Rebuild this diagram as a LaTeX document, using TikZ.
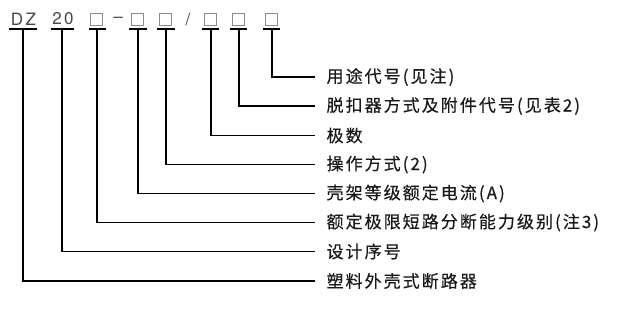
\documentclass[tikz,border=0pt]{standalone}
\usepackage{fontspec}
\newfontfamily\cjk[LetterSpace=12,FakeBold=0.4]{Noto Sans CJK SC}
\newfontfamily\codefont[LetterSpace=14]{TeX Gyre Heros}
\usetikzlibrary{positioning}

\begin{document}
\begin{tikzpicture}[x=1pt, y=-1pt, line width=1.2pt,
  code/.style={text=black!72, font=\codefont\fontsize{17}{17}\selectfont, inner sep=0pt},
  sq/.style={draw=black!45, line width=1pt, minimum size=12pt, inner sep=0pt},
  desc/.style={anchor=west, inner xsep=11pt, inner ysep=0pt, text=black!90,
    font=\cjk\fontsize{17}{17}\selectfont}]
\path[use as bounding box] (0,0) rectangle (622,309);
% model code on top
\node[code] (DZ) at (23.5,19) {DZ};
\node[code] (N20) at (63,19) {20};
\node[sq] (B1) at (96,19) {};
\node[code] (dash) at (118,20) {–};
\node[sq] (B2) at (137,19) {};
\node[sq] (B3) at (165,19) {};
\node[code] (slash) at (188,19) {/};
\node[sq] (B4) at (210,19) {};
\node[sq] (B5) at (238,19) {};
\node[sq] (B6) at (271,19) {};
% underline points
\coordinate (uDZ) at (23,29);
\coordinate (u20) at (62,29);
\coordinate (u1) at (97,29);
\coordinate (u2) at (138,29);
\coordinate (u3) at (166,29);
\coordinate (u4) at (211,29);
\coordinate (u5) at (239,29);
\coordinate (u6) at (272,29);
\draw ([xshift=-14pt]uDZ) -- ([xshift=14pt]uDZ);
\draw ([xshift=-11pt]u20) -- ([xshift=12pt]u20);
\draw ([xshift=-8pt]u1) -- ([xshift=9pt]u1);
\draw ([xshift=-9pt]u2) -- ([xshift=9pt]u2);
\draw ([xshift=-9pt]u3) -- ([xshift=9pt]u3);
\draw ([xshift=-9pt]u4) -- ([xshift=8pt]u4);
\draw ([xshift=-9pt]u5) -- ([xshift=8pt]u5);
\draw ([xshift=-9pt]u6) -- ([xshift=8pt]u6);
% descriptions
\node[desc] (dUse) at (315,77) {用途代号(见注)};
\node[desc] (dTrip) at (315,106) {脱扣器方式及附件代号(见表2)};
\node[desc] (dPole) at (315,135.5) {极数};
\node[desc] (dOper) at (315,164.5) {操作方式(2)};
\node[desc] (dFrame) at (315,193.5) {壳架等级额定电流(A)};
\node[desc] (dBreak) at (315,222.5) {额定极限短路分断能力级别(注3)};
\node[desc] (dDesign) at (315,251.5) {设计序号};
\node[desc] (dType) at (315,281) {塑料外壳式断路器};
% leaders
\draw (u6) |- (dUse.west);
\draw (u5) |- (dTrip.west);
\draw (u4) |- (dPole.west);
\draw (u3) |- (dOper.west);
\draw (u2) |- (dFrame.west);
\draw (u1) |- (dBreak.west);
\draw (u20) |- (dDesign.west);
\draw (uDZ) |- (dType.west);
\end{tikzpicture}
\end{document}
